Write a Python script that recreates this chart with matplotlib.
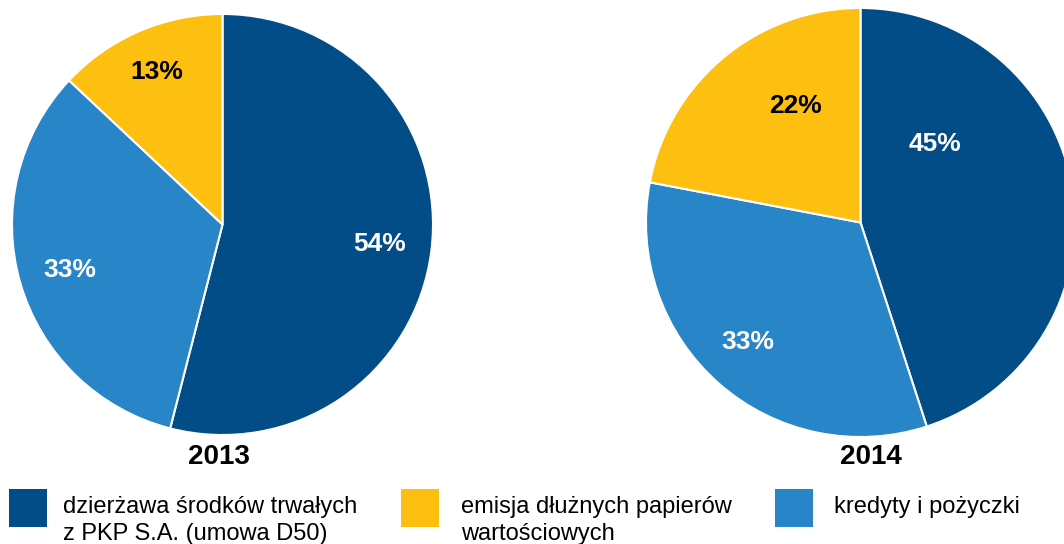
import matplotlib.pyplot as plt
from matplotlib.patches import Rectangle

plt.rcParams['font.family'] = ['Liberation Sans', 'DejaVu Sans']

# data
categories = ["dzierżawa środków trwałych\nz PKP S.A. (umowa D50)",
              "kredyty i pożyczki",
              "emisja dłużnych papierów\nwartościowych"]
years = ["2013", "2014"]
shares_2013 = [54, 33, 13]
shares_2014 = [45, 33, 22]
colors = ["#024C88", "#2785C8", "#FDC010"]
label_colors = ["white", "white", "black"]
legend_order = [0, 2, 1]

W, H = 1064, 544
fig = plt.figure(figsize=(W / 100, H / 100), dpi=100)
ax = fig.add_axes([0, 0, 1, 1])

pies = [
    # center (px, from top), radius, label offsets as fraction of radius (dx, dy up), year pos
    (shares_2013, (222.5, 224.5), 210.5,
     [(0.748, -0.093), (-0.724, -0.216), (-0.311, 0.724)], (219, 457)),
    (shares_2014, (860.5, 222.5), 214.5,
     [(0.347, 0.366), (-0.524, -0.557), (-0.301, 0.543)], (871, 457)),
]

for (vals, (cx, cy), r, offs, (tx, ty)), year in zip(pies, years):
    wedges, _ = ax.pie(vals, colors=colors, startangle=90, counterclock=False,
                       center=(cx, H - cy), radius=r, frame=True,
                       wedgeprops=dict(edgecolor="white", linewidth=1.5))
    for v, (dx, dy), lc in zip(vals, offs, label_colors):
        ax.text(cx + dx * r, H - cy + dy * r, "%d%%" % v, color=lc,
                fontsize=19, fontweight="bold", ha="center", va="center")
    ax.text(tx, H - ty, year, fontsize=20, fontweight="bold",
            ha="center", va="center")

# legend
box_x = [8.5, 401, 775]
text_x = [63, 461, 834]
for i, k in enumerate(legend_order):
    ax.add_patch(Rectangle((box_x[i], H - 527), 38, 38, color=colors[k], lw=0))
    ax.text(text_x[i], H - 496, categories[k], fontsize=17, ha="left", va="top",
            linespacing=1.27)

ax.set_xlim(0, W)
ax.set_ylim(0, H)
ax.set_aspect("auto")
ax.axis("off")

fig.savefig("out.png", dpi=100)
